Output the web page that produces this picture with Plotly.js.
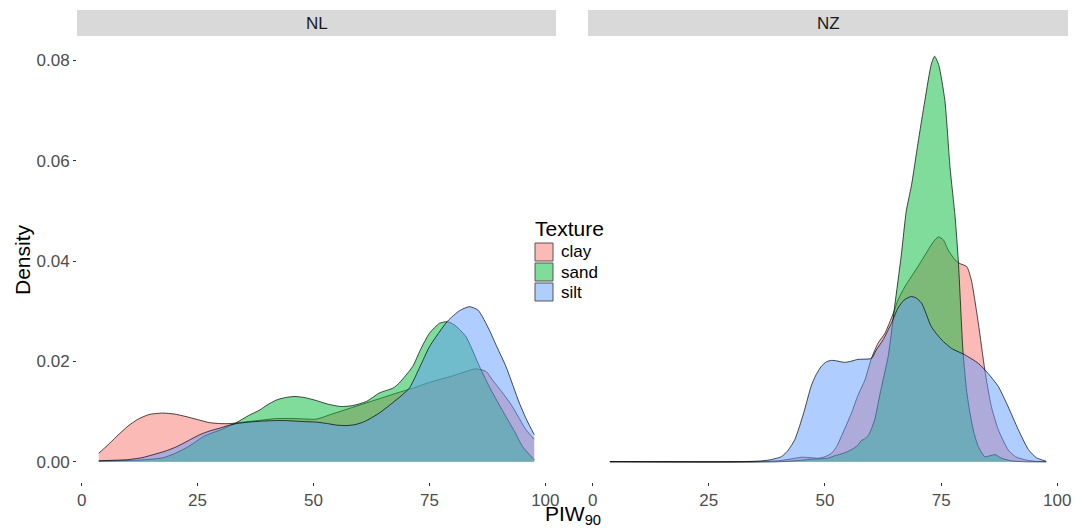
<!DOCTYPE html>
<html>
<head>
<meta charset="utf-8">
<script src="https://cdn.plot.ly/plotly-3.0.1.min.js"></script>
<style>html,body{margin:0;padding:0;background:#fff;}#chart{width:1077px;height:530px;}</style>
</head>
<body>
<div id="chart"></div>
<script>
// ---- Data ----
var facets = ["NL", "NZ"];
var textures = ["clay", "sand", "silt"];
var legendTitle = "Texture";
var xTicks = [0, 25, 50, 75, 100];
var yTicks = [0, 0.02, 0.04, 0.06, 0.08];
var yTickLabels = ["0.00", "0.02", "0.04", "0.06", "0.08"];

// NL
var nlClayX = [3.7, 5.5, 7.5, 10, 12, 14.5, 17.5, 20, 22.5, 25, 27.5, 30, 32, 34, 38, 42, 46, 50.6, 54, 57, 60, 64, 68, 71.6, 75, 80, 85, 87.2, 88.6, 90.8, 92.9, 95.8, 97.6];
var nlClayY = [0.0017, 0.0032, 0.005, 0.0071, 0.0084, 0.0094, 0.0097, 0.0095, 0.009, 0.0084, 0.0078, 0.0076, 0.0076, 0.0078, 0.0082, 0.0086, 0.0086, 0.0085, 0.0095, 0.0104, 0.0113, 0.0125, 0.0137, 0.0147, 0.0158, 0.0171, 0.0185, 0.018, 0.0163, 0.0137, 0.011, 0.0064, 0.0045];

var nlSandX = [3.7, 8, 12, 15, 17.6, 20, 22.6, 24.5, 26.2, 28, 29.8, 31.5, 33.4, 36, 38.4, 40, 42, 44, 46, 48, 50.6, 53, 56, 58.5, 61.4, 64.2, 67.2, 68.5, 71.4, 73, 75, 77.2, 78.9, 80.5, 82.9, 85.8, 88, 91.5, 93.5, 95.1, 97.6];
var nlSandY = [0.0001, 0.0002, 0.0003, 0.0005, 0.0008, 0.0016, 0.0028, 0.0039, 0.005, 0.0057, 0.0063, 0.007, 0.0078, 0.0092, 0.0103, 0.0113, 0.0123, 0.0128, 0.013, 0.0128, 0.0122, 0.0115, 0.011, 0.0112, 0.012, 0.0137, 0.0147, 0.0157, 0.019, 0.0222, 0.0256, 0.0276, 0.0279, 0.0272, 0.0249, 0.019, 0.0148, 0.009, 0.0058, 0.003, 0.0004];

var nlSiltX = [3.7, 9.7, 13, 15.4, 18, 20.5, 23, 25.5, 27.5, 29.8, 31.5, 33.4, 36, 39, 42, 44, 46, 48, 50.6, 53, 55, 57, 59, 61, 64.2, 67, 69, 70.7, 73, 75, 78.9, 81.5, 83.6, 85.5, 87.9, 89.5, 91.5, 94.4, 96, 97.6];
var nlSiltY = [0.0002, 0.0004, 0.0008, 0.0014, 0.0021, 0.003, 0.0042, 0.0054, 0.0061, 0.0067, 0.0072, 0.0076, 0.0079, 0.0081, 0.0082, 0.0082, 0.0081, 0.008, 0.0079, 0.0076, 0.0073, 0.0072, 0.0074, 0.008, 0.0097, 0.0117, 0.0132, 0.0147, 0.019, 0.0229, 0.028, 0.0301, 0.0309, 0.0302, 0.0263, 0.023, 0.019, 0.0117, 0.0083, 0.0054];

// NZ
var nzClayX = [3.7, 35, 40, 43, 45, 47, 48.5, 50, 51.4, 52.5, 53.5, 55.7, 57, 58.6, 60, 61.4, 62.9, 64.7, 65.7, 67.2, 70, 72.2, 73.3, 74.4, 75.5, 76.5, 78, 79, 80.5, 81.5, 83, 84.4, 85.8, 87.3, 89.4, 91, 93, 95, 97.6];
var nzClayY = [0, 0, 0.0002, 0.0006, 0.0009, 0.0008, 0.0007, 0.001, 0.0017, 0.003, 0.005, 0.0097, 0.013, 0.0163, 0.0206, 0.0236, 0.0256, 0.0296, 0.0322, 0.0349, 0.0389, 0.0422, 0.0438, 0.0448, 0.0442, 0.0422, 0.0402, 0.0395, 0.0389, 0.0362, 0.0276, 0.0183, 0.011, 0.0064, 0.0024, 0.001, 0.0004, 0.0001, 0];

var nzSandX = [3.7, 40, 45, 47, 50.6, 52.1, 54, 55.7, 57.1, 57.8, 58.6, 59.5, 60.7, 61.5, 62.5, 63.6, 65, 66.4, 67.5, 68.6, 70, 71.5, 72.9, 73.6, 74.5, 75.8, 76.9, 78, 78.7, 79.7, 80.5, 81.2, 82, 83, 84.4, 85.5, 86.6, 88, 90, 93, 97.6];
var nzSandY = [0, 0, 0.0003, 0.0005, 0.0007, 0.0012, 0.0017, 0.0024, 0.0033, 0.0042, 0.0046, 0.0055, 0.0084, 0.012, 0.0163, 0.021, 0.031, 0.041, 0.05, 0.055, 0.0634, 0.072, 0.0793, 0.0808, 0.079, 0.072, 0.0588, 0.0488, 0.04, 0.022, 0.014, 0.0097, 0.006, 0.003, 0.001, 0.0012, 0.0014, 0.0007, 0.0002, 0, 0];

var nzSiltX = [3.7, 30, 35, 37.7, 40.6, 42, 43.5, 44.5, 45.6, 47, 48, 49.2, 50.3, 51.4, 52.5, 54.2, 55.5, 57.1, 60, 61, 62.5, 64.3, 65.7, 67, 68.4, 69.5, 70.8, 72.9, 75.1, 77.2, 80.1, 83, 85.1, 87.3, 89.4, 91.6, 93.8, 95.5, 97.6];
var nzSiltY = [0, 0, 0.0001, 0.0003, 0.001, 0.0022, 0.0044, 0.007, 0.0103, 0.015, 0.0172, 0.019, 0.0199, 0.0202, 0.0201, 0.0198, 0.02, 0.0204, 0.0206, 0.0222, 0.0243, 0.0276, 0.0306, 0.0322, 0.0329, 0.0327, 0.0316, 0.0269, 0.0243, 0.0226, 0.0213, 0.0196, 0.0176, 0.015, 0.011, 0.0064, 0.0024, 0.0008, 0.0001];

// ---- Styling ----
var fills = {
  clay: "rgba(248,118,109,0.5)",
  sand: "rgba(0,186,56,0.5)",
  silt: "rgba(97,156,255,0.5)"
};
var FONT = "Liberation Sans, Arial, Helvetica, sans-serif";

var series = [
  {tex: "clay", x: nlClayX, y: nlClayY, xa: "x"},
  {tex: "sand", x: nlSandX, y: nlSandY, xa: "x"},
  {tex: "silt", x: nlSiltX, y: nlSiltY, xa: "x"},
  {tex: "clay", x: nzClayX, y: nzClayY, xa: "x2"},
  {tex: "sand", x: nzSandX, y: nzSandY, xa: "x2"},
  {tex: "silt", x: nzSiltX, y: nzSiltY, xa: "x2"}
];

var traces = series.map(function (s) {
  return {
    type: "scatter", mode: "lines",
    x: s.x, y: s.y, xaxis: s.xa, yaxis: "y",
    fill: "tozeroy", fillcolor: fills[s.tex],
    line: {color: "#000000", width: 0.7, shape: "spline", smoothing: 0.6},
    name: s.tex, showlegend: false, hoverinfo: "x+y+name"
  };
});

var L = 77, R = 9, T = 36, B = 48, W = 1077, H = 530;
var pw = W - L - R, ph = H - T - B;
var d1 = [0, (556 - L) / pw];
var d2 = [(588 - L) / pw, 1];
function py(p) { return (H - B - p) / ph; }
function pxX(p) { return (p - L) / pw; }

var xCommon = {
  range: [-1.0, 102.3], tickvals: xTicks, ticktext: xTicks.map(String),
  ticks: "outside", ticklen: 3, tickwidth: 1, tickcolor: "#333333",
  tickfont: {family: FONT, size: 17, color: "#4D4D4D"},
  showgrid: false, zeroline: false, showline: false, anchor: "y", fixedrange: true
};

var shapes = [
  {type: "rect", xref: "paper", yref: "paper", x0: d1[0], x1: d1[1], y0: py(36), y1: py(10), fillcolor: "#D9D9D9", line: {width: 0}, layer: "below"},
  {type: "rect", xref: "paper", yref: "paper", x0: d2[0], x1: d2[1], y0: py(36), y1: py(10), fillcolor: "#D9D9D9", line: {width: 0}, layer: "below"}
];
var annotations = [
  {text: facets[0], xref: "paper", yref: "paper", x: (d1[0] + d1[1]) / 2, y: py(23), xanchor: "center", yanchor: "middle", showarrow: false, font: {family: FONT, size: 17, color: "#1A1A1A"}},
  {text: facets[1], xref: "paper", yref: "paper", x: (d2[0] + d2[1]) / 2, y: py(23), xanchor: "center", yanchor: "middle", showarrow: false, font: {family: FONT, size: 17, color: "#1A1A1A"}},
  {text: "PIW<sub>90</sub>", xref: "paper", yref: "paper", x: 0.5, y: py(515), xanchor: "center", yanchor: "middle", showarrow: false, font: {family: FONT, size: 21, color: "#000000"}},
  {text: "Density", xref: "paper", yref: "paper", x: pxX(22), y: py(260), xanchor: "center", yanchor: "middle", textangle: -90, showarrow: false, font: {family: FONT, size: 21, color: "#000000"}},
  {text: legendTitle, xref: "paper", yref: "paper", x: pxX(533), y: py(228), xanchor: "left", yanchor: "middle", showarrow: false, font: {family: FONT, size: 21, color: "#000000"}}
];
// legend keys (guide), drawn as boxes + labels
textures.forEach(function (t, i) {
  var top = 243 + i * 20;
  shapes.push({type: "rect", xref: "paper", yref: "paper", x0: pxX(535), x1: pxX(553), y0: py(top + 18), y1: py(top), fillcolor: fills[t], line: {color: "#555555", width: 1}, layer: "above"});
  annotations.push({text: t, xref: "paper", yref: "paper", x: pxX(559), y: py(top + 9), xanchor: "left", yanchor: "middle", showarrow: false, font: {family: FONT, size: 17, color: "#000000"}});
});

var layout = {
  width: W, height: H,
  margin: {l: L, r: R, t: T, b: B, pad: 0},
  paper_bgcolor: "#ffffff", plot_bgcolor: "#ffffff",
  font: {family: FONT, color: "#000000"},
  showlegend: false,
  xaxis: Object.assign({}, xCommon, {domain: d1}),
  xaxis2: Object.assign({}, xCommon, {domain: d2}),
  yaxis: {
    range: [-0.00404, 0.08484], tickvals: yTicks, ticktext: yTickLabels,
    ticks: "outside", ticklen: 3, tickwidth: 1, tickcolor: "#333333",
    tickfont: {family: FONT, size: 17, color: "#4D4D4D"},
    showgrid: false, zeroline: false, showline: false, anchor: "x", fixedrange: true
  },
  shapes: shapes,
  annotations: annotations
};

Plotly.newPlot("chart", traces, layout, {displayModeBar: false, staticPlot: true});
</script>
</body>
</html>
